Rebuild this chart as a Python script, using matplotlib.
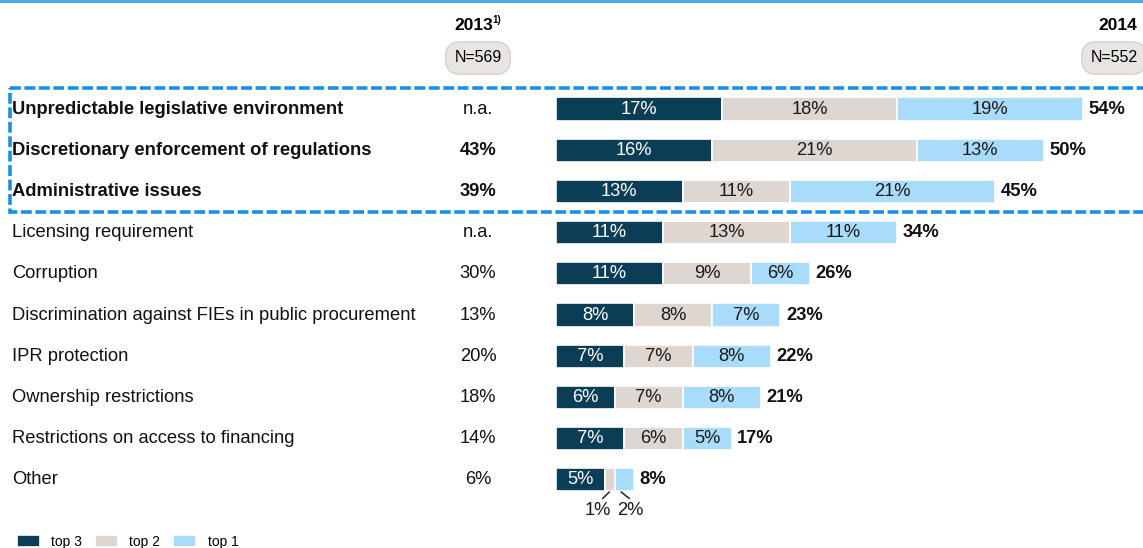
import numpy as np
import matplotlib
matplotlib.use('Agg')
import matplotlib.pyplot as plt
from matplotlib.patches import Rectangle
from matplotlib.lines import Line2D

plt.rcParams['font.family'] = ['Liberation Sans', 'DejaVu Sans']

# data
categories = ['Unpredictable legislative environment',
              'Discretionary enforcement of regulations',
              'Administrative issues',
              'Licensing requirement',
              'Corruption',
              'Discrimination against FIEs in public procurement',
              'IPR protection',
              'Ownership restrictions',
              'Restrictions on access to financing',
              'Other']
val_2013 = ['n.a.', '43%', '39%', 'n.a.', '30%', '13%', '20%', '18%', '14%', '6%']
top3 = [17, 16, 13, 11, 11, 8, 7, 6, 7, 5]
top2 = [18, 21, 11, 13, 9, 8, 7, 7, 6, 1]
top1 = [19, 13, 21, 11, 6, 7, 8, 8, 5, 2]
total = [54, 50, 45, 34, 26, 23, 22, 21, 17, 8]
n_2013 = 'N=569'
n_2014 = 'N=552'
series_names = ['top 3', 'top 2', 'top 1']
colors = ['#0B3E56', '#DED6D1', '#A9DBFB']
text_cols = ['white', '#1a1a1a', '#1a1a1a']
highlighted = 3

W, H = 1143, 548
fs = 13.2
fig = plt.figure(figsize=(W/100, H/100), dpi=100)
ax = fig.add_axes([0, 0, 1, 1])
ax.axis('off')

# scale: bars start at px 556, ~9.75 px per percentage point; rows every 41.2 px from y=108
px_per = 9.75
ax.set_xlim(-556/px_per, (W-556)/px_per)
ax.set_ylim((H-109)/41.2, -109/41.2)

y = np.arange(len(categories))
left = np.zeros(len(categories))
bars = []
for vals, c in zip([top3, top2, top1], colors):
    b = ax.barh(y, vals, left=left, height=0.56, color=c, edgecolor='white', linewidth=1.2)
    bars.append(b)
    left = left + np.array(vals)

# segment labels
left = np.zeros(len(categories))
for vals, tc in zip([top3, top2, top1], text_cols):
    for i, v in enumerate(vals):
        if v >= 5:
            ax.text(left[i] + v/2, i, f'{v}%', ha='center', va='center',
                    color=tc, fontsize=fs)
    left = left + np.array(vals)

# small segments of last row: labels below with leader lines
i = len(categories) - 1
c1 = top3[i] + top2[i]/2
c2 = top3[i] + top2[i] + top1[i]/2
ax.add_line(Line2D([c1 - 0.05, c1 - 0.7], [i + 0.3, i + 0.45], color='#333333', lw=1.2))
ax.add_line(Line2D([c2 - 0.3, c2 + 0.5], [i + 0.3, i + 0.45], color='#333333', lw=1.2))
ax.text(c1 - 1.2, i + 0.75, f'{top2[i]}%', ha='center', va='center', fontsize=fs, color='#1a1a1a')
ax.text(c2 + 0.6, i + 0.75, f'{top1[i]}%', ha='center', va='center', fontsize=fs, color='#1a1a1a')

# totals
for i, t in enumerate(total):
    ax.text(left[i] + 0.6, i, f'{t}%', ha='left', va='center', fontsize=fs,
            fontweight='bold', color='#111111')

# row labels and 2013 column
tr = ax.get_yaxis_transform()
for i, (cat, v13) in enumerate(zip(categories, val_2013)):
    fw = 'bold' if i < highlighted else 'normal'
    fw13 = 'bold' if (i < highlighted and v13 != 'n.a.') else 'normal'
    ax.text(12/W, i, cat, transform=tr, ha='left', va='center', fontsize=fs,
            fontweight=fw, color='#111111')
    ax.text(478/W, i, v13, transform=tr, ha='center', va='center', fontsize=fs,
            fontweight=fw13, color='#111111')

# headers
fig.text(474/W, 1 - 25/H, '2013', ha='center', va='center', fontsize=12.5, fontweight='bold')
fig.text(492/W, 1 - 20/H, '1)', ha='left', va='center', fontsize=7, fontweight='bold')
fig.text(1118/W, 1 - 25/H, '2014', ha='center', va='center', fontsize=12.5, fontweight='bold')
pill = dict(boxstyle='round,pad=0.55,rounding_size=0.95', fc='#E7E4E1', ec='#D6D2CE', lw=1)
fig.text(478/W, 1 - 58/H, n_2013, ha='center', va='center', fontsize=11.5, bbox=pill)
fig.text(1114/W, 1 - 58/H, n_2014, ha='center', va='center', fontsize=11.5, bbox=pill)

# top border line
fig.add_artist(Line2D([0, 1], [1 - 1/H, 1 - 1/H], transform=fig.transFigure,
                      color='#3FA3EA', lw=2))

# dashed highlight box around first rows
box = Rectangle((10/W, -0.52), 1.2, highlighted + 0.02, transform=tr, fill=False,
                ec='#1B8FE4', lw=2.6, ls=(0, (3, 1)), clip_on=False)
ax.add_patch(box)

# legend
leg = fig.legend([b[0] for b in bars], series_names, loc='lower left',
                 bbox_to_anchor=(4/W, -0.024), ncol=3, frameon=False, fontsize=10,
                 handlelength=1.7, handleheight=0.9, columnspacing=0.9, handletextpad=0.8)

fig.savefig('out.png', dpi=100)
